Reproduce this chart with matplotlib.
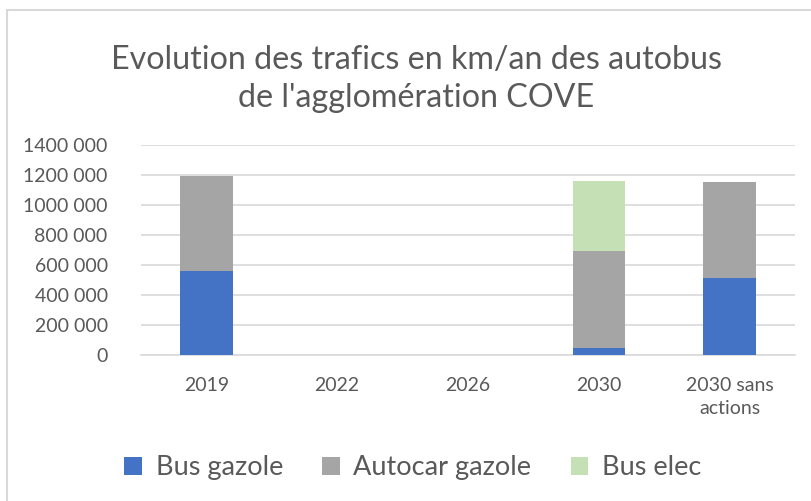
import matplotlib.pyplot as plt
import matplotlib.ticker as mticker
from matplotlib.patches import Rectangle, Patch
import numpy as np

plt.rcParams['font.family'] = ['Lato', 'DejaVu Sans']

categories = ["2019", "2022", "2026", "2030", "2030 sans\nactions"]
bus_gazole = [557000, 0, 0, 48000, 511000]
autocar_gazole = [636000, 0, 0, 643000, 641000]
bus_elec = [0, 0, 0, 467000, 0]

series_labels = ["Bus gazole", "Autocar gazole", "Bus elec"]
series_colors = ["#4472C4", "#A5A5A5", "#C5E0B4"]
text_color = "#595959"
grid_color = "#D9D9D9"


def fmt_km(v, pos):
	v = int(round(v))
	if v < 1000:
		return str(v)
	return "{} {:03d}".format(v // 1000, v % 1000)


fig = plt.figure(figsize=(8.11, 5.01), dpi=100)
ax = fig.add_axes([141 / 811, 1 - 355 / 501, (795 - 141) / 811, (355 - 145) / 501])

x = np.arange(len(categories))
width = 0.4
bottom = np.zeros(len(categories))
for vals, lab, col in zip([bus_gazole, autocar_gazole, bus_elec], series_labels, series_colors):
	vals = np.array(vals, dtype=float)
	ax.bar(x, vals, width, bottom=bottom, color=col, label=lab, linewidth=0, zorder=3)
	bottom += vals

ax.set_xlim(-0.5, len(categories) - 0.5)
ax.set_ylim(0, 1400000)
ax.yaxis.set_major_locator(mticker.MultipleLocator(200000))
ax.yaxis.set_major_formatter(mticker.FuncFormatter(fmt_km))
ax.grid(axis='y', color=grid_color, linewidth=1.2, zorder=0)
for s in ["top", "right", "left"]:
	ax.spines[s].set_visible(False)
ax.spines["bottom"].set_color(grid_color)
ax.spines["bottom"].set_linewidth(1.2)
ax.set_xticks(x)
ax.set_xticklabels(categories, linespacing=1.4)
ax.tick_params(axis='both', length=0, labelsize=14, labelcolor=text_color)
ax.tick_params(axis='y', pad=24)
ax.tick_params(axis='x', pad=16)

fig.text(0.513, 0.842, "Evolution des trafics en km/an des autobus\nde l'agglomération COVE",
	ha="center", va="center", fontsize=23.2, color=text_color, linespacing=1.35)

handles = [Patch(facecolor=c, edgecolor="none") for c in series_colors]
fig.legend(handles, series_labels, loc="center", bbox_to_anchor=(0.509, 0.066), ncol=3,
	frameon=False, fontsize=19.5, labelcolor=text_color, handlelength=0.65, handleheight=0.65,
	columnspacing=1.45, handletextpad=0.5)

fig.patches.append(Rectangle((7 / 811, -0.2), 1.2, 1 - 10 / 501 + 0.2, transform=fig.transFigure,
	fill=False, edgecolor=grid_color, linewidth=1.5))

plt.savefig("out.png", dpi=100)
